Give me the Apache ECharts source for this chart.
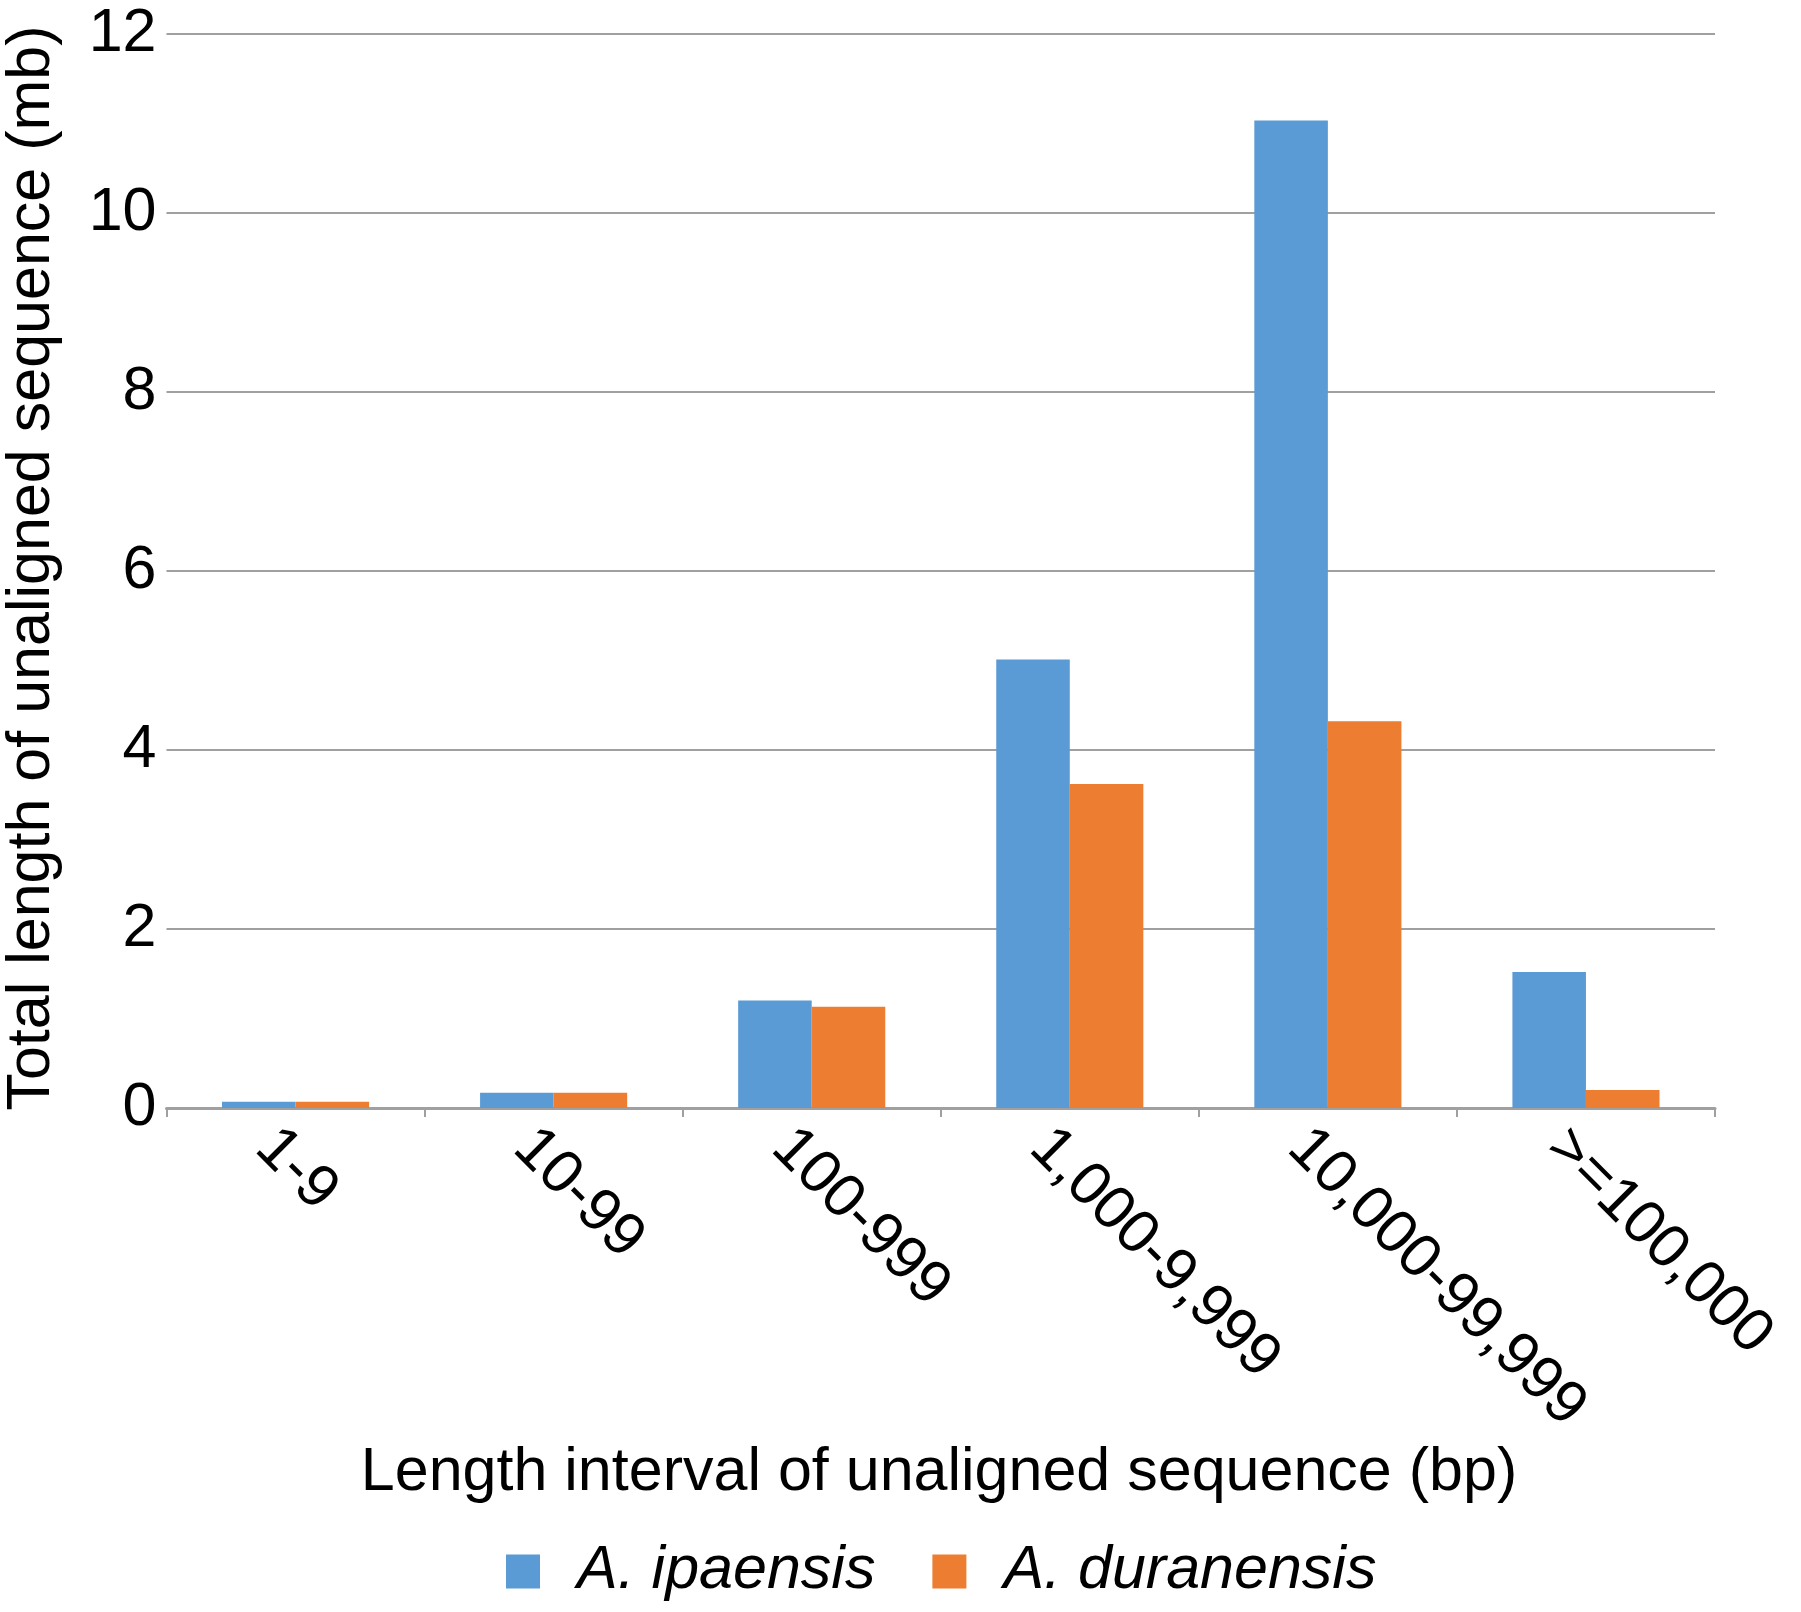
<!DOCTYPE html>
<html>
<head>
<meta charset="utf-8">
<title>Unaligned sequence length</title>
<script src="https://cdn.jsdelivr.net/npm/echarts@6/dist/echarts.min.js"></script>
<style>
    html, body { margin: 0; padding: 0; background: #fff; }
    #chart { width: 1801px; height: 1612px; }
</style>
</head>
<body>
<div id="chart"></div>
<script>
// data
var categories = ['1-9', '10-99', '100-999', '1,000-9,999', '10,000-99,999', '>=100,000'];
var ipaensis = [0.07, 0.17, 1.20, 5.01, 11.03, 1.52];
var duranensis = [0.07, 0.17, 1.13, 3.62, 4.32, 0.20];
var seriesNames = ['A. ipaensis', 'A. duranensis'];
var yTicks = [0, 2, 4, 6, 8, 10, 12];

var FONT = "'Liberation Sans', Arial, Helvetica, sans-serif";
var FS = 61;
var GREY = '#a0a0a0';

var chart = echarts.init(document.getElementById('chart'));

var option = {
    animation: false,
    backgroundColor: '#fff',
    textStyle: { fontFamily: FONT, color: '#000' },
    grid: {
        left: 166.5,
        right: 86,
        top: 33.7,
        bottom: 504,
        containLabel: false,
        outerBoundsMode: 'none'
    },
    legend: {
        data: seriesNames,
        left: 501,
        top: 1536,
        orient: 'horizontal',
        icon: 'rect',
        itemWidth: 34,
        itemHeight: 34,
        itemGap: 57,
        textStyle: {
            fontFamily: FONT,
            fontStyle: 'italic',
            fontSize: FS,
            color: '#000',
            padding: [0, 0, 0, 32]
        }
    },
    xAxis: {
        type: 'category',
        data: categories,
        boundaryGap: true,
        axisLine: { show: true, lineStyle: { color: GREY, width: 3 } },
        axisTick: { show: true, alignWithLabel: false, length: 9, lineStyle: { color: GREY, width: 2 } },
        axisLabel: {
            interval: 0,
            rotate: -45,
            margin: 0,
            fontSize: FS,
            fontFamily: FONT,
            color: '#000',
            verticalAlign: 'top',
            lineHeight: 86
        },
        splitLine: { show: false }
    },
    yAxis: {
        type: 'value',
        min: yTicks[0],
        max: yTicks[yTicks.length - 1],
        interval: yTicks[1] - yTicks[0],
        axisLine: { show: false },
        axisTick: { show: false },
        axisLabel: { fontSize: FS, fontFamily: FONT, color: '#000', margin: 10 },
        splitLine: { show: true, lineStyle: { color: GREY, width: 2 } }
    },
    series: [
        {
            name: seriesNames[0],
            type: 'bar',
            data: ipaensis,
            barGap: '0%',
            barCategoryGap: '43%',
            itemStyle: { color: '#5b9bd5' }
        },
        {
            name: seriesNames[1],
            type: 'bar',
            data: duranensis,
            barGap: '0%',
            barCategoryGap: '43%',
            itemStyle: { color: '#ed7d31' }
        }
    ],
    graphic: [
        {
            type: 'text',
            x: 32,
            y: 568,
            rotation: Math.PI / 2,
            style: {
                text: 'Total length of unaligned sequence (mb)',
                fontFamily: FONT,
                fontSize: FS,
                fill: '#000',
                align: 'center',
                verticalAlign: 'middle'
            }
        },
        {
            type: 'text',
            x: 939,
            y: 1473,
            style: {
                text: 'Length interval of unaligned sequence (bp)',
                fontFamily: FONT,
                fontSize: FS,
                fill: '#000',
                align: 'center',
                verticalAlign: 'middle'
            }
        }
    ]
};

chart.setOption(option);
</script>
</body>
</html>
